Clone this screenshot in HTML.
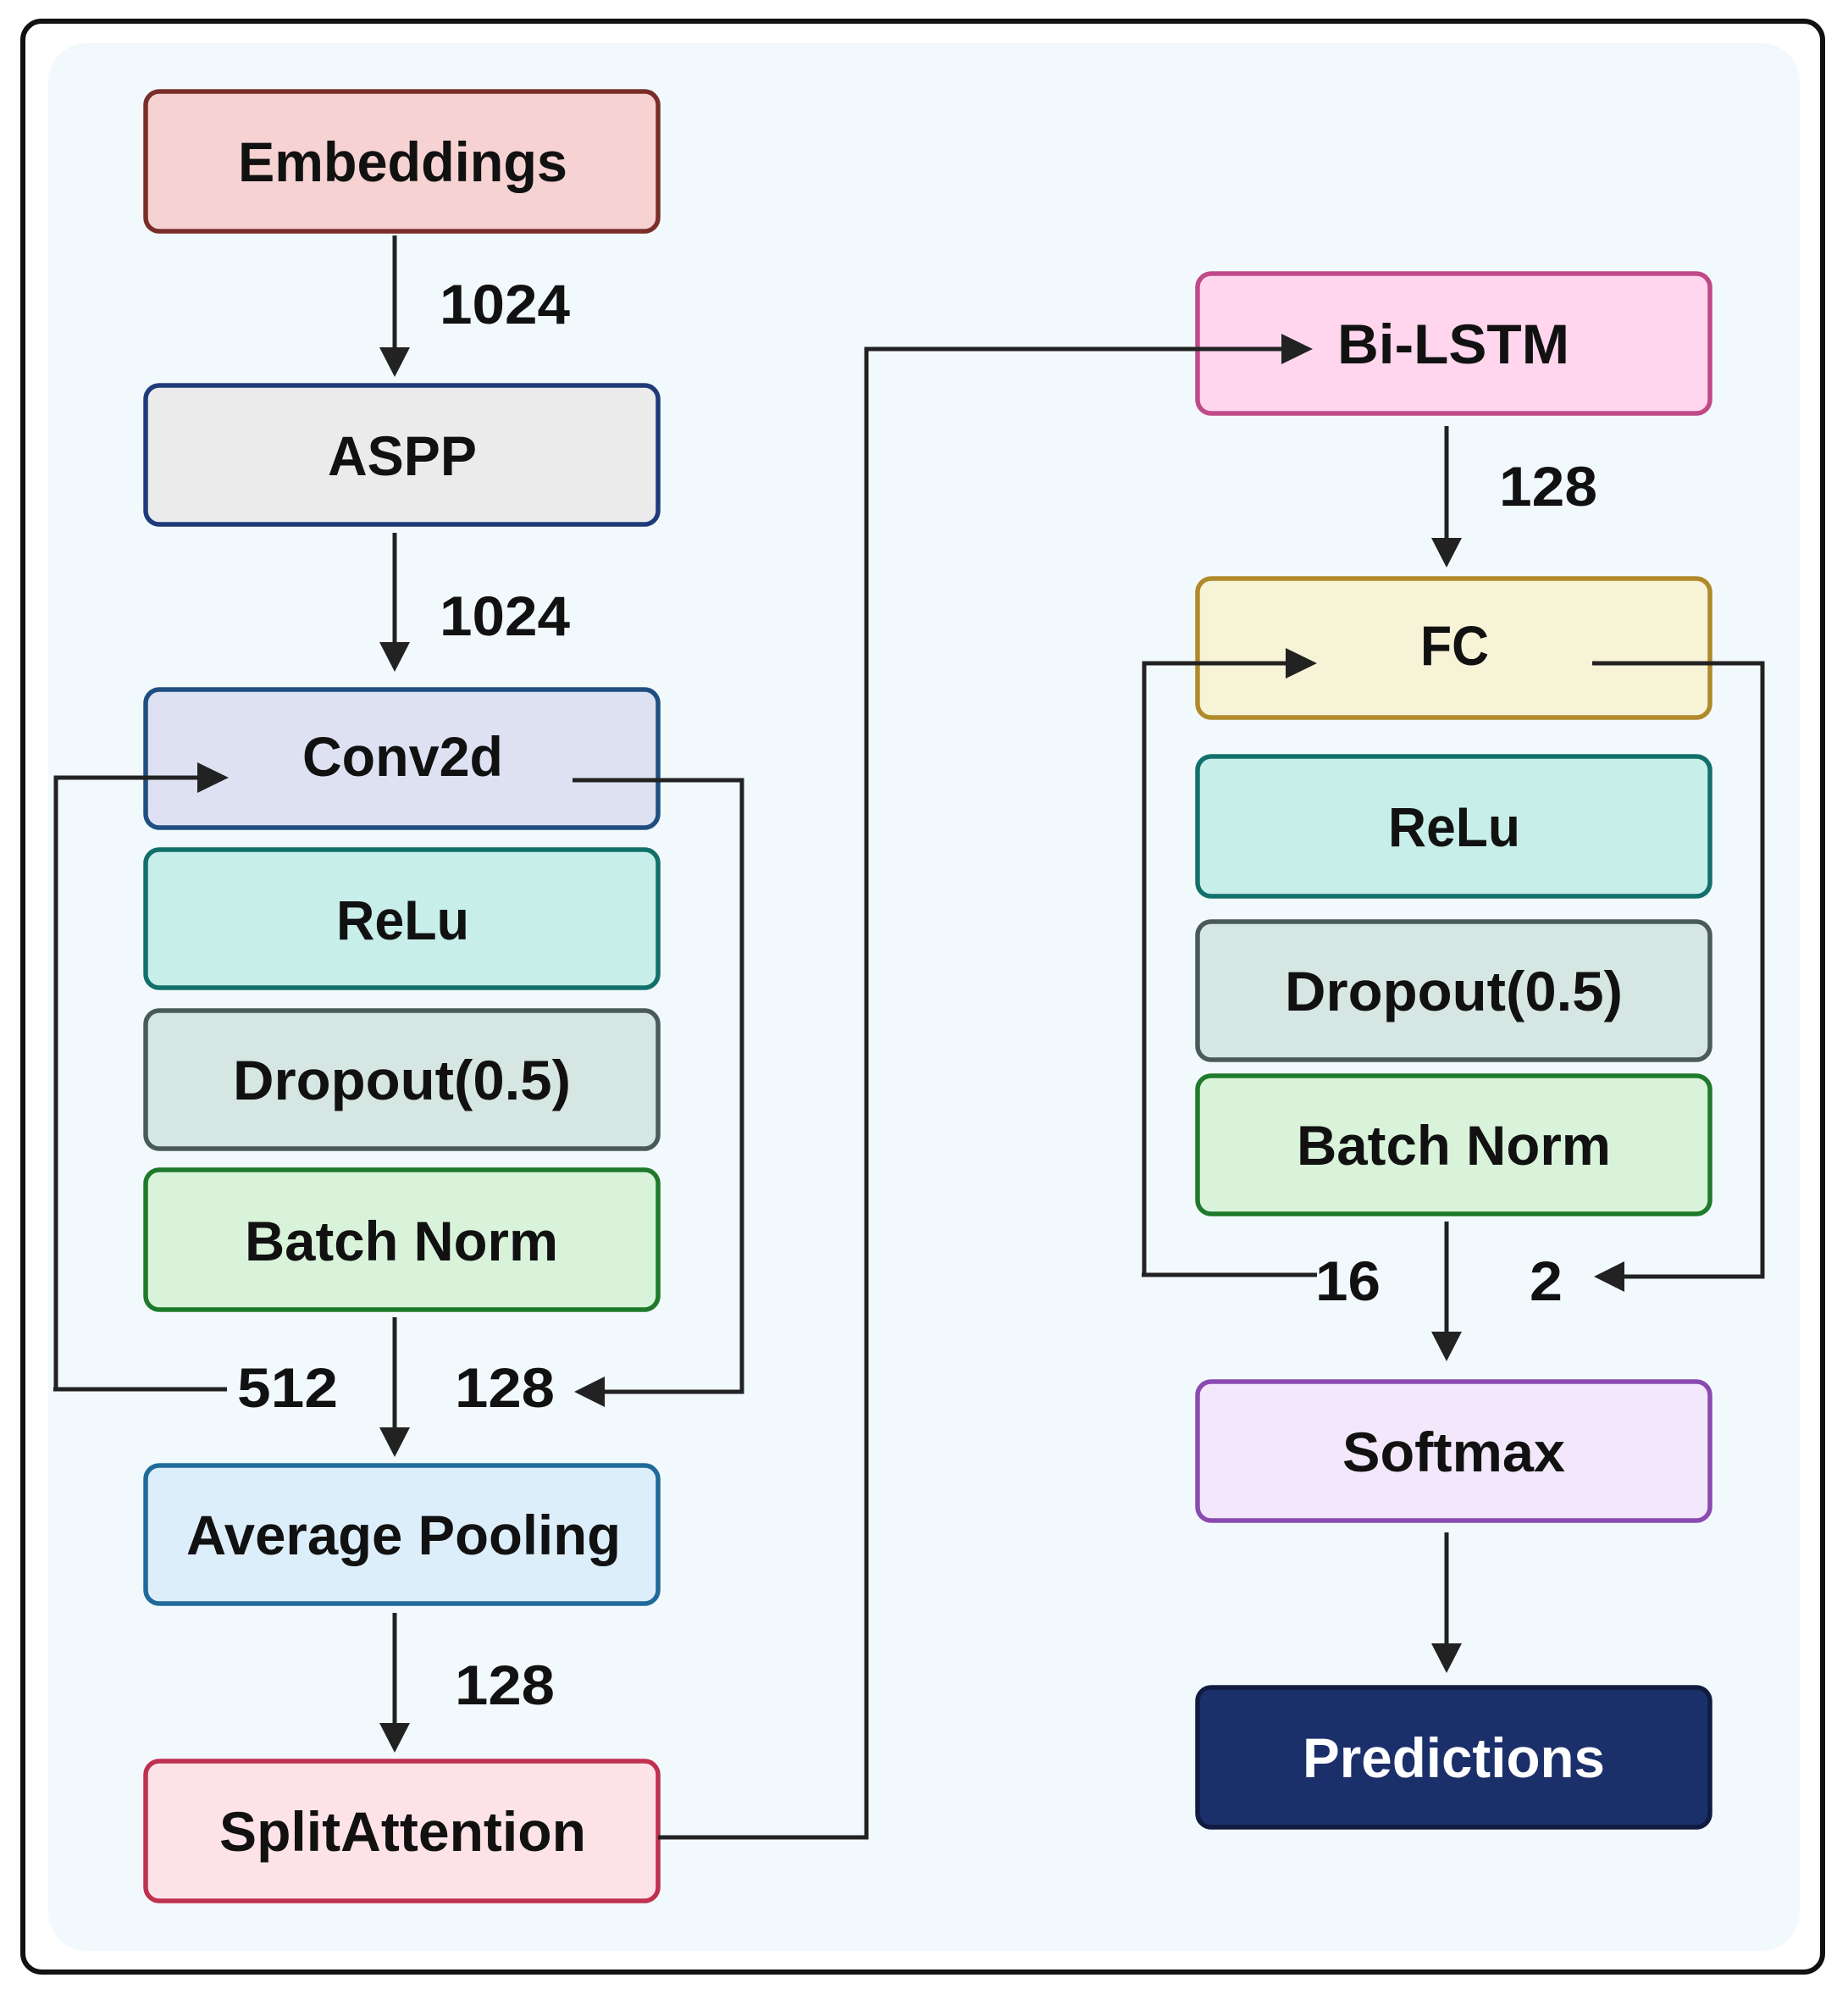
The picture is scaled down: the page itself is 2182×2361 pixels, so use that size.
<!DOCTYPE html>
<html><head><meta charset="utf-8"><style>
html,body{margin:0;padding:0;background:#fff}
svg{display:block}
text{font-family:"Liberation Sans",sans-serif;font-weight:bold;font-size:66px;fill:#111}
</style></head><body>
<svg width="2182" height="2361" viewBox="0 0 2182 2361" xmlns="http://www.w3.org/2000/svg">
<defs>
<marker id="a" markerWidth="10" markerHeight="10" refX="9" refY="5" orient="auto" markerUnits="userSpaceOnUse" viewBox="0 0 10 10">
</marker>
</defs>
<rect x="27" y="25" width="2125" height="2303" rx="22" fill="#fff" stroke="#111" stroke-width="6"/>
<rect x="57" y="51" width="2068" height="2252" rx="45" fill="#f2f9fd"/>

<g stroke-width="5.5">
<rect x="172" y="108" width="605" height="165" rx="16" fill="#f6d3d2" stroke="#7a2e2a"/>
<rect x="172" y="455" width="605" height="164" rx="16" fill="#ebebeb" stroke="#1e3a7a"/>
<rect x="172" y="814" width="605" height="163" rx="16" fill="#dde1f1" stroke="#1f4e80"/>
<rect x="172" y="1003" width="605" height="163" rx="16" fill="#c8eeea" stroke="#12706a"/>
<rect x="172" y="1193" width="605" height="163" rx="16" fill="#d5e6e3" stroke="#4a5a58"/>
<rect x="172" y="1381" width="605" height="165" rx="16" fill="#d8f3d9" stroke="#1e7a2a"/>
<rect x="172" y="1730" width="605" height="163" rx="16" fill="#ddeefb" stroke="#1f6a9a"/>
<rect x="172" y="2079" width="605" height="165" rx="16" fill="#fde3e8" stroke="#c03050"/>

<rect x="1414" y="323" width="605" height="165" rx="16" fill="#ffd6ee" stroke="#c04a88"/>
<rect x="1414" y="683" width="605" height="164" rx="16" fill="#f7f3d6" stroke="#b08a2a"/>
<rect x="1414" y="893" width="605" height="165" rx="16" fill="#c8eeea" stroke="#12706a"/>
<rect x="1414" y="1088" width="605" height="163" rx="16" fill="#d5e6e3" stroke="#4a5a58"/>
<rect x="1414" y="1270" width="605" height="163" rx="16" fill="#d8f3d9" stroke="#1e7a2a"/>
<rect x="1414" y="1631" width="605" height="164" rx="16" fill="#f3e8fb" stroke="#8a4ab0"/>
<rect x="1414" y="1992" width="605" height="165" rx="16" fill="#1b2f6a" stroke="#0f1c40"/>
</g>

<g stroke="#222" stroke-width="5" fill="none">
<line x1="466" y1="278" x2="466" y2="420"/>
<line x1="466" y1="629" x2="466" y2="770"/>
<polyline points="66,1640 66,918 240,918"/>
<line x1="63" y1="1640" x2="268" y2="1640"/>
<polyline points="676,921 876,921 876,1643 710,1643"/>
<line x1="466" y1="1555" x2="466" y2="1695"/>
<line x1="466" y1="1904" x2="466" y2="2045"/>
<polyline points="777,2169 1023,2169 1023,412 1520,412"/>
<line x1="1708" y1="503" x2="1708" y2="645"/>
<polyline points="1348,1505 1351,1505 1351,783 1525,783"/>
<line x1="1348" y1="1505" x2="1555" y2="1505"/>
<polyline points="1880,783 2081,783 2081,1507 1910,1507"/>
<line x1="1708" y1="1442" x2="1708" y2="1580"/>
<line x1="1708" y1="1809" x2="1708" y2="1950"/>
</g>
<g fill="#222">
<polygon points="448,410 484,410 466,445"/>
<polygon points="448,758 484,758 466,793"/>
<polygon points="233,900 233,936 270,918"/>
<polygon points="714,1625 714,1661 678,1643"/>
<polygon points="448,1685 484,1685 466,1720"/>
<polygon points="448,2034 484,2034 466,2069"/>
<polygon points="1513,394 1513,430 1550,412"/>
<polygon points="1690,635 1726,635 1708,670"/>
<polygon points="1518,765 1518,801 1555,783"/>
<polygon points="1918,1489 1918,1525 1882,1507"/>
<polygon points="1690,1572 1726,1572 1708,1607"/>
<polygon points="1690,1940 1726,1940 1708,1975"/>
</g>

<g>
<text x="281" y="214" textLength="389" lengthAdjust="spacingAndGlyphs">Embeddings</text>
<text x="387" y="561" textLength="176" lengthAdjust="spacingAndGlyphs">ASPP</text>
<text x="357" y="916" textLength="237" lengthAdjust="spacingAndGlyphs">Conv2d</text>
<text x="397" y="1109" textLength="157" lengthAdjust="spacingAndGlyphs">ReLu</text>
<text x="275" y="1298" textLength="399" lengthAdjust="spacingAndGlyphs">Dropout(0.5)</text>
<text x="289" y="1488" textLength="370" lengthAdjust="spacingAndGlyphs">Batch Norm</text>
<text x="220" y="1835" textLength="513" lengthAdjust="spacingAndGlyphs">Average Pooling</text>
<text x="259" y="2185" textLength="433" lengthAdjust="spacingAndGlyphs">SplitAttention</text>

<text x="1579" y="429" textLength="274" lengthAdjust="spacingAndGlyphs">Bi-LSTM</text>
<text x="1677" y="785" textLength="81" lengthAdjust="spacingAndGlyphs">FC</text>
<text x="1639" y="999" textLength="156" lengthAdjust="spacingAndGlyphs">ReLu</text>
<text x="1517" y="1193" textLength="399" lengthAdjust="spacingAndGlyphs">Dropout(0.5)</text>
<text x="1531" y="1375" textLength="371" lengthAdjust="spacingAndGlyphs">Batch Norm</text>
<text x="1585" y="1737" textLength="263" lengthAdjust="spacingAndGlyphs">Softmax</text>
<text x="1538" y="2098" textLength="357" lengthAdjust="spacingAndGlyphs" style="fill:#fff">Predictions</text>

<text x="519" y="382" textLength="154" lengthAdjust="spacingAndGlyphs">1024</text>
<text x="519" y="750" textLength="154" lengthAdjust="spacingAndGlyphs">1024</text>
<text x="280" y="1661" textLength="119" lengthAdjust="spacingAndGlyphs">512</text>
<text x="537" y="1661" textLength="118" lengthAdjust="spacingAndGlyphs">128</text>
<text x="537" y="2012" textLength="118" lengthAdjust="spacingAndGlyphs">128</text>
<text x="1770" y="597" textLength="116" lengthAdjust="spacingAndGlyphs">128</text>
<text x="1553" y="1535" textLength="77" lengthAdjust="spacingAndGlyphs">16</text>
<text x="1806" y="1535" textLength="39" lengthAdjust="spacingAndGlyphs">2</text>
</g>
</svg>
</body></html>
